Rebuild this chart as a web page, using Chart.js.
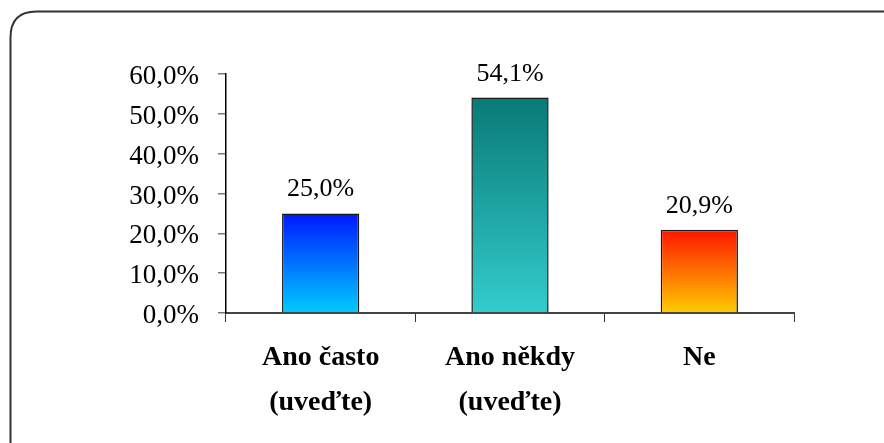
<!DOCTYPE html>
<html>
<head>
<meta charset="utf-8">
<script src="https://cdn.jsdelivr.net/npm/chart.js@4/dist/chart.umd.min.js"></script>
<style>
  html, body { margin: 0; padding: 0; background: #fff; }
  #wrap { position: relative; width: 884px; height: 443px; }
</style>
</head>
<body>
<div id="wrap"><canvas id="c" width="884" height="443"></canvas></div>
<script>
// Survey answers and their shares (%)
const categories = [["Ano často", "(uveďte)"], ["Ano někdy", "(uveďte)"], ["Ne"]];
const shares = [25.0, 54.1, 20.9];
const yTicks = [0, 10, 20, 30, 40, 50, 60];

// Vertical gradient stops per bar: [top, bottom]
const barGradients = [["#0018ff", "#00ccff"], ["#087a76", "#33cccc"], ["#ff1500", "#ffcc00"]];

const fmt = v => v.toFixed(1).replace('.', ',') + '%';

// Rounded frame around the whole chart (runs off the right and bottom edges)
const framePlugin = {
  id: 'frame',
  beforeDraw(chart) {
    const ctx = chart.ctx;
    const x = 10.5, y = 11.5, w = 900, h = 460, r = 26;
    ctx.save();
    ctx.strokeStyle = '#333';
    ctx.lineWidth = 2;
    ctx.beginPath();
    ctx.moveTo(x + r, y);
    ctx.lineTo(x + w, y);
    ctx.moveTo(x, y + h);
    ctx.lineTo(x, y + r);
    ctx.quadraticCurveTo(x, y, x + r, y);
    ctx.stroke();
    ctx.restore();
  }
};

// Value labels above each bar
const valueLabels = {
  id: 'valueLabels',
  afterDatasetsDraw(chart) {
    const ctx = chart.ctx;
    const meta = chart.getDatasetMeta(0);
    ctx.save();
    ctx.font = '26px "Liberation Serif", serif';
    ctx.fillStyle = '#000';
    ctx.textAlign = 'center';
    ctx.textBaseline = 'alphabetic';
    meta.data.forEach((bar, i) => {
      ctx.fillText(fmt(shares[i]), bar.x, bar.y - 17);
    });
    ctx.restore();
  }
};

// Each bar gets its own gradient running from its top to the baseline
function gradientFor(context) {
  const chart = context.chart;
  const area = chart.chartArea;
  const yScale = chart.scales.y;
  const i = context.dataIndex;
  if (!area || !yScale || i === undefined) return barGradients[i || 0][1];
  const top = yScale.getPixelForValue(shares[i]);
  const bottom = yScale.getPixelForValue(0);
  if (!isFinite(top) || !isFinite(bottom) || top === bottom) return barGradients[i][1];
  const g = chart.ctx.createLinearGradient(0, top, 0, bottom);
  g.addColorStop(0, barGradients[i][0]);
  g.addColorStop(1, barGradients[i][1]);
  return g;
}

new Chart(document.getElementById('c'), {
  type: 'bar',
  data: {
    labels: categories,
    datasets: [{
      data: shares,
      backgroundColor: gradientFor,
      borderColor: '#1a1a1a',
      borderWidth: 1.5,
      borderSkipped: 'bottom',
      categoryPercentage: 0.8,
      barPercentage: 0.51
    }]
  },
  options: {
    responsive: false,
    animation: false,
    devicePixelRatio: 1,
    layout: { padding: { left: 0, top: 74, right: 90, bottom: 0 } },
    plugins: { legend: { display: false }, tooltip: { enabled: false } },
    scales: {
      x: {
        afterFit(scale) { scale.height = 130; },
        grid: { display: true, drawOnChartArea: false, offset: true, tickLength: 9, color: '#333', lineWidth: 1 },
        border: { display: true, color: '#444', width: 2 },
        ticks: {
          color: '#000',
          padding: 14,
          font: { family: '"Liberation Serif", serif', size: 28, weight: 'bold', lineHeight: 1.58 }
        }
      },
      y: {
        min: 0,
        max: 60,
        afterFit(scale) { scale.width = 226; },
        afterBuildTicks(scale) { scale.ticks = yTicks.map(v => ({ value: v })); },
        grid: { display: true, drawOnChartArea: false, tickLength: 8, color: '#777', lineWidth: 1.5 },
        border: { display: true, color: '#000', width: 1.5 },
        ticks: {
          color: '#000',
          padding: 19,
          labelOffset: 3,
          font: { family: '"Liberation Serif", serif', size: 27 },
          callback: v => fmt(v)
        }
      }
    }
  },
  plugins: [framePlugin, valueLabels]
});
</script>
</body>
</html>
